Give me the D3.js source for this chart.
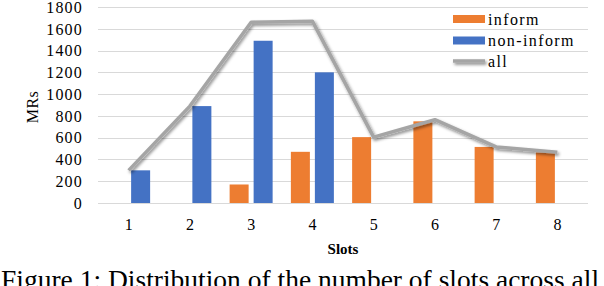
<!DOCTYPE html>
<html><head><meta charset="utf-8">
<script src="https://cdn.jsdelivr.net/npm/d3@7/dist/d3.min.js"></script>
<style>
html,body{margin:0;padding:0;background:#fff;}
svg{display:block;}
svg text{font-family:'Liberation Serif','DejaVu Serif',serif;}
</style></head>
<body>
<svg id="c" width="604" height="286"></svg>
<script>
const slots = ["1","2","3","4","5","6","7","8"];
const inform = [0, 0, 170, 470, 605, 750, 515, 465];
const nonInform = [300, 890, 1490, 1200, 0, 0, 0, 0];
const all = [300, 890, 1660, 1670, 605, 765, 515, 465];
const yTicks = [0,200,400,600,800,1000,1200,1400,1600,1800];
const seriesNames = ["inform","non-inform","all"];
const colors = {inform:"#ED7D31","non-inform":"#4472C4",all:"#A5A5A5"};

const svg = d3.select("#c");
const defs = svg.append("defs");
const f = defs.append("filter").attr("id","sh").attr("filterUnits","userSpaceOnUse")
  .attr("x",0).attr("y",0).attr("width",604).attr("height",286);
f.append("feDropShadow").attr("dx",1.5).attr("dy",2).attr("stdDeviation",1.4).attr("flood-color","#000").attr("flood-opacity",0.45);

const x = d3.scaleBand().domain(slots).range([98,588]).padding(0);
const bw = x.bandwidth();
const x1 = d3.scaleBand().domain(["inform","non-inform"]).range([(bw-43)/2,(bw+43)/2]).paddingInner(5/24).paddingOuter(0);
const y = d3.scaleLinear().domain([0,1800]).range([203,7]);

const serif = "'Liberation Serif','DejaVu Serif',serif";

// gridlines
svg.append("g").selectAll("line").data(yTicks).join("line")
  .attr("x1",98).attr("x2",588)
  .attr("y1",d=>Math.round(y(d))+0.5).attr("y2",d=>Math.round(y(d))+0.5)
  .attr("stroke","#d9d9d9").attr("stroke-width",1.2);

// y axis labels
const yAxis = d3.axisLeft(y).tickValues(yTicks).tickFormat(d3.format("d")).tickSize(0).tickPadding(0);
const ga = svg.append("g").attr("transform","translate(83,0)").call(yAxis);
ga.select(".domain").remove();
ga.attr("font-family",serif);
ga.selectAll("text").style("font-family",serif).attr("font-size",16).attr("fill","#000")
  .attr("letter-spacing","1.2px").attr("dy","0.33em");

// x axis labels
const xAxis = d3.axisBottom(x).tickSize(0).tickPadding(0);
const gx = svg.append("g").attr("transform","translate(0,218)").call(xAxis);
gx.select(".domain").remove();
gx.attr("font-family",serif);
gx.selectAll("text").style("font-family",serif).attr("font-size",16).attr("fill","#000").attr("dy","0.75em");

// bars
const barData = [];
slots.forEach((s,i)=>{
  barData.push({slot:s,key:"inform",v:inform[i]});
  barData.push({slot:s,key:"non-inform",v:nonInform[i]});
});
svg.append("g").selectAll("rect").data(barData.filter(d=>d.v>0)).join("rect")
  .attr("x",d=>x(d.slot)+x1(d.key))
  .attr("width",x1.bandwidth())
  .attr("y",d=>y(d.v))
  .attr("height",d=>y(0)-y(d.v))
  .attr("fill",d=>colors[d.key]);

// line
const line = d3.line().x((d,i)=>x(slots[i])+bw/2).y(d=>y(d));
svg.append("path").datum(all).attr("d",line)
  .attr("fill","none").attr("stroke",colors.all).attr("stroke-width",3.5)
  .attr("stroke-linejoin","round").attr("filter","url(#sh)");

// axis titles
svg.append("text").attr("transform","translate(38,107) rotate(-90)")
  .attr("text-anchor","middle").attr("font-size",16).attr("letter-spacing","0.5px").text("MRs");
svg.append("text").attr("x",343).attr("y",254).attr("text-anchor","middle")
  .attr("font-size",15).attr("font-weight","bold").text("Slots");

// legend
const lg = svg.append("g");
const ly = [19,40.5,61];
seriesNames.forEach((n,i)=>{
  if(n==="all"){
    lg.append("line").attr("x1",453).attr("x2",485).attr("y1",ly[i]).attr("y2",ly[i])
      .attr("stroke",colors[n]).attr("stroke-width",3.5).attr("filter","url(#sh)");
  } else {
    lg.append("rect").attr("x",453).attr("y",ly[i]-4).attr("width",32).attr("height",8).attr("fill",colors[n]);
  }
  lg.append("text").attr("x",488).attr("y",ly[i]+5.5).attr("font-size",16)
    .attr("letter-spacing","1.4px").attr("fill","#000").text(n);
});

// caption
svg.append("text").attr("x",1).attr("y",289).style("font-family","'Liberation Serif','Times New Roman',serif")
  .attr("font-size",27.5).attr("fill","#000").text("Figure 1: Distribution of the number of slots across all");
</script>
</body></html>
